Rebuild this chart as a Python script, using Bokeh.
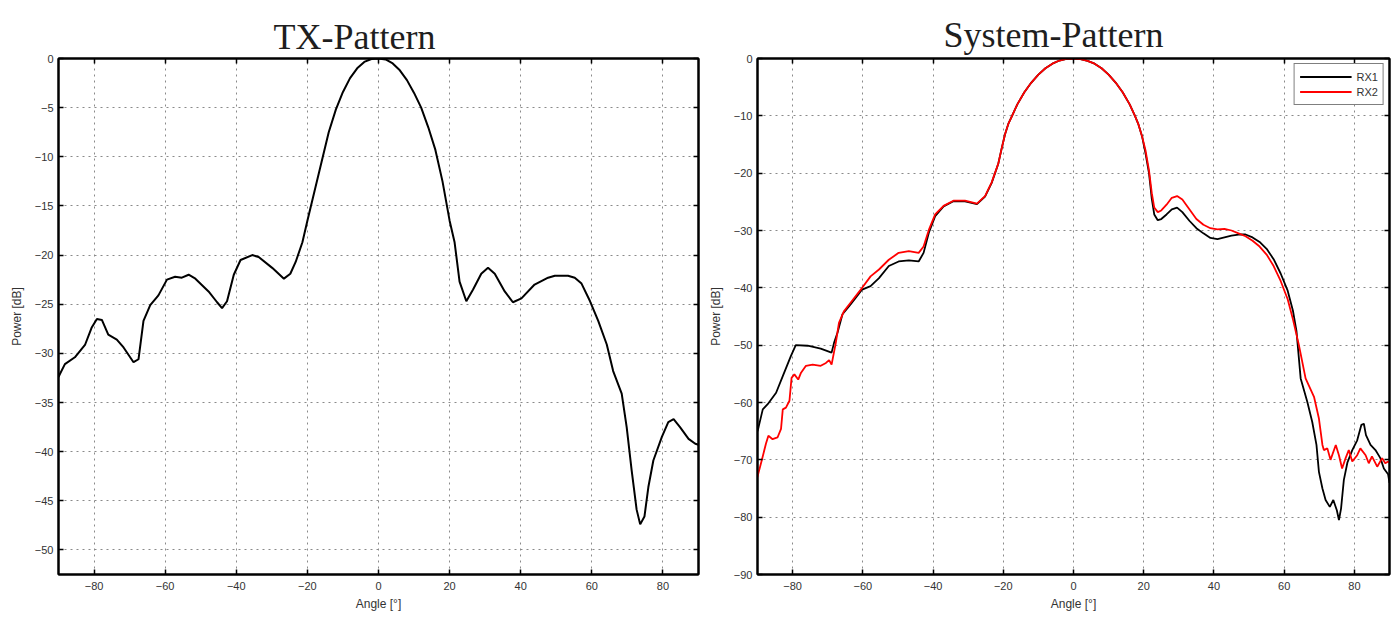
from bokeh.plotting import figure
from bokeh.models import FixedTicker, LinearAxis, Range1d, CustomJSTickFormatter
from bokeh.layouts import row
from bokeh.embed import file_html
from bokeh.resources import INLINE

# ---------------- data ----------------
tx_angle = [-90, -89.6, -88.2, -85.4, -82.5, -80.7, -79.2, -77.8, -76, -73.6, -71.7, -68.9, -67.5, -66.1,
            -64.2, -61.9, -59.5, -57.2, -55.3, -53.4, -51.5, -47.8, -45.4, -44, -42.6, -40.7, -38.8, -35.5,
            -33.7, -29.9, -26.6, -24.8, -23.3, -21.4, -20, -18, -16, -14, -12, -10, -8, -6, -4, -2, 0, 2, 4,
            6, 8, 10, 12, 14, 16, 18, 20, 21.4, 22.8, 24.7, 26.6, 28.9, 30.8, 32.7, 35.5, 37.8, 40.2, 43.9,
            47.7, 49.6, 53.3, 55.2, 57.1, 59.5, 61.8, 64.2, 66.0, 68.4, 69.8, 71.2, 72.6, 73.6, 74.8, 75.9,
            77.3, 79.7, 81.5, 83.0, 84.8, 87.2, 89.1, 90]
tx_power = [-32.4, -32.1, -31.1, -30.4, -29.1, -27.4, -26.5, -26.6, -28.1, -28.6, -29.4, -30.9, -30.6, -26.7,
            -25.1, -24.1, -22.5, -22.2, -22.3, -22.0, -22.4, -23.7, -24.8, -25.4, -24.7, -22.0, -20.5, -20.0,
            -20.2, -21.3, -22.4, -21.9, -20.7, -18.7, -16.5, -13.5, -10.5, -7.5, -5.2, -3.4, -2.0, -1.0, -0.35,
            -0.05, 0, -0.1, -0.5, -1.2, -2.2, -3.5, -5.0, -7.0, -9.3, -12.5, -16.5, -18.7, -22.7, -24.7, -23.5,
            -21.9, -21.3, -21.9, -23.7, -24.8, -24.4, -23.0, -22.3, -22.1, -22.1, -22.3, -22.9, -24.7, -26.7,
            -29.1, -31.8, -34.1, -37.5, -41.9, -45.9, -47.4, -46.6, -43.6, -40.9, -38.5, -37.0, -36.7, -37.5,
            -38.7, -39.2, -39.3]

rx1_angle = [-90, -89.7, -88.5, -87.1, -84.7, -82.8, -80.5, -79.1, -75.7, -72.0, -68.9, -68.2, -67.2, -65.8,
             -63.9, -62.0, -60.2, -57.8, -55.4, -52.6, -49.8, -46.9, -44.1, -42.7, -41.2, -39.4, -37.0, -34.2,
             -30.9, -27.5, -25.2, -23.3, -21.4, -20.5, -19.5, -18.5, -17.5, -16, -14, -12, -10, -8, -6, -4, -2,
             0, 2, 4, 6, 8, 10, 12, 14, 16, 17.5, 18.5, 19.5, 20.5, 21.5, 22.3, 23, 24, 25, 26.5, 28, 29.5, 31,
             33, 35, 37, 39, 41, 43, 45, 47, 49, 51, 53, 55, 57, 59, 61, 62.5, 63.5, 64.7, 66.6, 68.0, 69.2,
             69.9, 70.9, 71.8, 73.0, 74.0, 75.0, 75.6, 76.2, 77.0, 78.0, 79.4, 80.8, 82.0, 82.7, 83.3, 84.6,
             86.0, 87.4, 88.4, 89.6, 90]
rx1_power = [-65.0, -64.3, -61.2, -60.3, -58.3, -55.4, -51.9, -50.0, -50.1, -50.6, -51.3, -49.6, -47.8, -44.6,
             -43.2, -41.7, -40.3, -39.7, -38.3, -36.2, -35.4, -35.2, -35.4, -33.9, -30.4, -27.5, -25.8, -24.9,
             -24.9, -25.4, -24.1, -21.7, -18.3, -15.8, -13.2, -11.3, -10.0, -8.0, -5.9, -4.2, -2.8, -1.7, -0.9,
             -0.35, -0.05, 0, -0.1, -0.4, -0.9, -1.7, -2.8, -4.2, -5.9, -8.0, -10.0, -11.5, -13.5, -16.5, -20.0,
             -24.5, -27.2, -28.2, -28.0, -27.2, -26.3, -26.0, -26.8, -28.3, -29.6, -30.5, -31.3, -31.5, -31.2,
             -30.9, -30.7, -30.7, -31.2, -32.0, -33.2, -35.0, -37.5, -40.5, -44.0, -47.5, -55.8, -59.9, -63.4,
             -67.4, -72.1, -75.0, -77.0, -78.2, -77.0, -78.8, -80.5, -78.5, -73.5, -70.5, -68.3, -66.6, -63.9,
             -63.7, -65.7, -67.4, -68.3, -69.7, -71.5, -72.5, -74.0]

rx2_angle = [-90, -89.9, -88.8, -87.6, -86.9, -85.7, -84.3, -83.3, -82.8, -81.9, -80.9, -80.3, -79.5, -78.4,
             -77.6, -76.2, -74.3, -72.0, -70.5, -69.6, -68.9, -67.7, -66.8, -65.4, -63.5, -60.2, -57.8, -55.4,
             -52.6, -49.8, -46.9, -44.1, -42.7, -41.2, -39.4, -37.0, -34.2, -30.9, -27.5, -25.2, -23.3, -21.4,
             -20.5, -19.5, -18.5, -17.5, -16, -14, -12, -10, -8, -6, -4, -2, 0, 2, 4, 6, 8, 10, 12, 14, 16,
             17.5, 18.5, 19.5, 20.5, 21.5, 22.3, 23, 24, 25, 26.5, 28, 29.5, 31, 33, 35, 37, 39, 41, 43, 45,
             47, 49, 51, 53, 55, 57, 59, 61, 62.5, 64.2, 66.1, 68.5, 69.9, 70.9, 71.3, 72.3, 73.2, 74.7, 75.6,
             76.5, 77.5, 78.4, 79.4, 80.8, 81.7, 83.2, 84.1, 85.0, 86.5, 87.9, 88.8, 89.6, 90]
rx2_power = [-73.0, -72.7, -70.1, -67.2, -65.8, -66.4, -66.1, -64.6, -61.2, -60.9, -59.7, -55.7, -55.1, -56.0,
             -54.8, -53.6, -53.4, -53.6, -53.1, -52.6, -53.4, -49.6, -46.1, -44.1, -42.6, -40.0, -38.0, -36.8,
             -35.1, -33.9, -33.6, -33.9, -32.8, -29.9, -27.2, -25.7, -24.8, -24.8, -25.3, -24.0, -21.6, -18.3,
             -15.8, -13.2, -11.3, -10.0, -8.0, -5.9, -4.2, -2.8, -1.7, -0.9, -0.35, -0.05, 0, -0.1, -0.4, -0.9,
             -1.7, -2.8, -4.2, -5.9, -8.0, -10.0, -11.5, -13.5, -16.0, -19.5, -23.5, -26.0, -26.8, -26.5, -25.5,
             -24.3, -24.0, -24.6, -26.3, -28.0, -29.0, -29.6, -29.8, -29.7, -30.0, -30.5, -31.0, -31.8, -32.8,
             -34.2, -36.2, -38.8, -42.0, -45.5, -50.0, -55.8, -59.0, -62.8, -67.4, -68.3, -68.0, -70.0, -67.4,
             -69.2, -71.5, -69.7, -68.3, -70.3, -69.2, -68.0, -69.2, -70.6, -69.4, -71.2, -69.7, -70.6, -70.3,
             -70.5]

x_ticks = [-80, -60, -40, -20, 0, 20, 40, 60, 80]
tx_y_ticks = [0, -5, -10, -15, -20, -25, -30, -35, -40, -45, -50]
sys_y_ticks = [0, -10, -20, -30, -40, -50, -60, -70, -80, -90]

# ---------------- styling helpers ----------------
TICK_FONT = "Liberation Sans"
TEXT_COLOR = "#333333"
TITLE_FONT = "Liberation Serif"


def minus_fmt():
    return CustomJSTickFormatter(code="return tick < 0 ? '\u2212' + String(-tick) : String(tick);")


def blank_fmt():
    return CustomJSTickFormatter(code="return '';")


def base_fig(title, ylo, yticks, w, h, bl, br, bt, bb, t_offset, t_standoff):
    p = figure(width=w, height=h, x_range=Range1d(-90, 90), y_range=Range1d(ylo, 0),
               output_backend="svg", toolbar_location=None, title=title,
               min_border_left=bl, min_border_right=br, min_border_top=bt, min_border_bottom=bb,
               background_fill_color="white", border_fill_color="white")
    p.outline_line_color = "black"
    p.outline_line_width = 2

    p.title.align = "left"
    p.title.offset = t_offset
    p.title.standoff = t_standoff
    p.title.text_font = TITLE_FONT
    p.title.text_font_size = "36px"
    p.title.text_font_style = "normal"
    p.title.text_color = "#1e1e1e"

    p.xaxis.ticker = FixedTicker(ticks=x_ticks)
    p.yaxis.ticker = FixedTicker(ticks=yticks)
    for ax in (p.xaxis, p.yaxis):
        ax.formatter = minus_fmt()
        ax.major_tick_in = 5
        ax.major_tick_out = 0
        ax.minor_tick_line_color = None
        ax.axis_line_width = 2
        ax.major_tick_line_width = 1.5
        ax.major_label_text_font = TICK_FONT
        ax.major_label_text_font_size = "11px"
        ax.major_label_text_color = TEXT_COLOR
        ax.axis_label_text_font = TICK_FONT
        ax.axis_label_text_font_size = "12px"
        ax.axis_label_text_font_style = "normal"
        ax.axis_label_text_color = TEXT_COLOR
    p.xaxis.major_label_standoff = 7
    p.yaxis.major_label_standoff = 5
    p.xaxis.axis_label = "Angle [°]"
    p.yaxis.axis_label = "Power [dB]"
    p.xaxis.axis_label_standoff = 4
    p.yaxis.axis_label_standoff = 8

    top = LinearAxis(ticker=FixedTicker(ticks=x_ticks), formatter=blank_fmt(),
                     major_label_text_font_size="1px",
                     major_tick_in=5, major_tick_out=0, minor_tick_line_color=None,
                     major_label_standoff=0, axis_line_width=2, major_tick_line_width=1.5)
    right = LinearAxis(ticker=FixedTicker(ticks=yticks), formatter=blank_fmt(),
                       major_label_text_font_size="1px",
                       major_tick_in=5, major_tick_out=0, minor_tick_line_color=None,
                       major_label_standoff=0, axis_line_width=2, major_tick_line_width=1.5)
    p.add_layout(top, "above")
    p.add_layout(right, "right")

    p.xgrid.ticker = FixedTicker(ticks=x_ticks)
    p.ygrid.ticker = FixedTicker(ticks=yticks)
    for g in (p.xgrid, p.ygrid):
        g.grid_line_color = "#8a8a8a"
        g.grid_line_dash = "2 4"
        g.grid_line_width = 1
    return p


# width = left border + frame + right border ; height = top + frame + bottom
p1 = base_fig("TX-Pattern", -52.5, tx_y_ticks, 58 + 640 + 3, 55 + 521 + 37, 58, 3, 55, 37, 215, 4)
p1.line(tx_angle, tx_power, line_color="black", line_width=2)

p2 = base_fig("System-Pattern", -90, sys_y_ticks, 56 + 632 + 3, 58 + 518 + 37, 56, 3, 58, 37, 186, 8)
p2.line(rx1_angle, rx1_power, line_color="black", line_width=1.8, legend_label="RX1")
p2.line(rx2_angle, rx2_power, line_color="#ff0000", line_width=1.8, legend_label="RX2")

lg = p2.legend[0]
lg.location = "top_right"
lg.margin = 5
lg.padding = 5
lg.spacing = 0
lg.label_height = 15
lg.glyph_height = 15
lg.glyph_width = 52
lg.label_standoff = 5
lg.label_text_font = TICK_FONT
lg.label_text_font_size = "11px"
lg.label_text_color = TEXT_COLOR
lg.border_line_color = "black"
lg.border_line_width = 1.5
lg.background_fill_color = "white"
lg.background_fill_alpha = 1

layout = row(p1, p2)
open("out.html", "w").write(file_html(layout, INLINE))
